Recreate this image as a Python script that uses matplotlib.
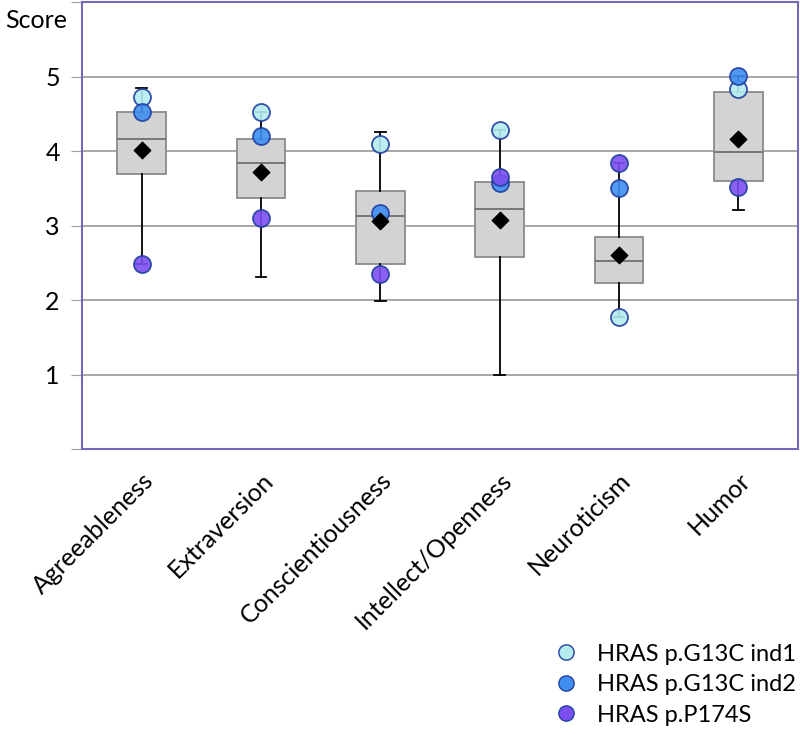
import numpy as np
import matplotlib
matplotlib.use("Agg")
import matplotlib.pyplot as plt

plt.rcParams['font.family'] = ['Lato', 'DejaVu Sans']

# datos
categorias = ["Agreeableness", "Extraversion", "Conscientiousness",
              "Intellect/Openness", "Neuroticism", "Humor"]
wh_low = [2.49, 2.31, 1.99, 1.00, 1.77, 3.21]
q1 = [3.70, 3.37, 2.49, 2.58, 2.23, 3.60]
mediana = [4.17, 3.84, 3.13, 3.23, 2.53, 3.99]
q3 = [4.53, 4.17, 3.47, 3.58, 2.85, 4.80]
wh_high = [4.85, 4.53, 4.26, 4.29, 3.84, 5.01]
media = [4.01, 3.72, 3.06, 3.08, 2.61, 4.16]

ind1 = [4.73, 4.53, 4.09, 4.29, 1.77, 4.84]
ind2 = [4.52, 4.21, 3.17, 3.57, 3.50, 5.01]
p174s = [2.49, 3.10, 2.35, 3.65, 3.84, 3.52]

nombres = ["HRAS p.G13C ind1", "HRAS p.G13C ind2", "HRAS p.P174S"]
colores = ["#b4ecf0", "#3f8ef0", "#7c4ff0"]

fig = plt.figure(figsize=(8, 7.35), dpi=100)
ax = fig.add_axes([0.1025, 0.389, 0.895, 0.608])

x = np.arange(len(categorias))
stats = []
for i in range(len(categorias)):
    stats.append({"whislo": wh_low[i], "q1": q1[i], "med": mediana[i],
                  "q3": q3[i], "whishi": wh_high[i], "fliers": []})

ax.bxp(stats, positions=x, widths=0.41, patch_artist=True, showfliers=False,
       boxprops=dict(facecolor="#d3d3d3", edgecolor="#8a8a8a", linewidth=1.3),
       medianprops=dict(color="#707070", linewidth=1.3),
       whiskerprops=dict(color="black", linewidth=1.3),
       capprops=dict(color="black", linewidth=1.3),
       capwidths=0.09, zorder=2)

ax.scatter(x, media, marker="D", s=70, color="black", zorder=4)

for vals, c in zip([ind1, ind2, p174s], colores):
    ax.scatter(x, vals, s=150, color=c, edgecolor="#2040a0", linewidth=1.3,
               alpha=0.9, zorder=3)

ax.set_xlim(-0.5, 5.5)
ax.set_ylim(0, 6)
ax.set_yticks(range(0, 7))
ax.set_yticklabels(["", "1", "2", "3", "4", "5", ""], fontsize=18)
for v in range(1, 6):
    ax.axhline(v, color="#a0a0a0", linewidth=1.3, zorder=1)

ax.set_xticks(x)
ax.set_xticklabels(categorias, rotation=45, ha="right", rotation_mode="anchor",
                   fontsize=18)
ax.tick_params(axis="x", length=0, pad=14)
ax.tick_params(axis="y", length=8, color="#a0a0a0", pad=8)

for s in ax.spines.values():
    s.set_color("#7468b8")
    s.set_linewidth(1.5)

fig.text(0.006, 0.972, "Score", fontsize=18, va="center")

handles = [plt.Line2D([], [], marker="o", linestyle="", markersize=11,
                      markerfacecolor=c, markeredgecolor="#2040a0")
           for c in colores]
fig.legend(handles, nombres, loc="upper left", bbox_to_anchor=(0.681, 0.137),
           borderaxespad=0, frameon=False, fontsize=17, handlelength=1,
           handletextpad=0.8, labelspacing=0.4)

fig.savefig("out.png", dpi=100)
